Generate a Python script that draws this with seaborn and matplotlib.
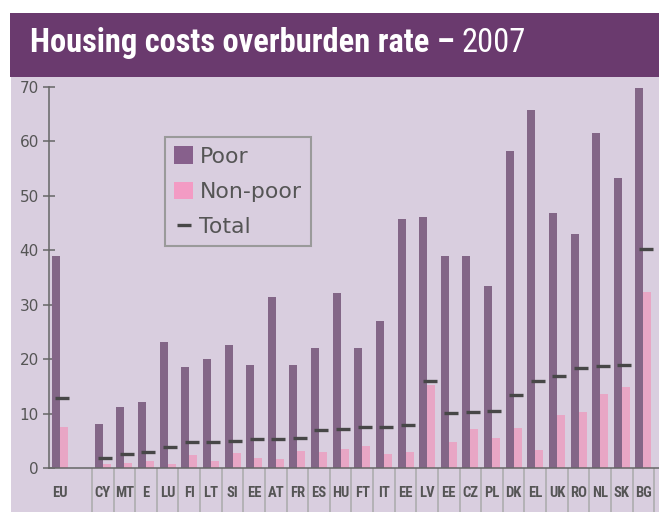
import numpy as np
import pandas as pd
import matplotlib
matplotlib.use("Agg")
import matplotlib.pyplot as plt
import seaborn as sns
from matplotlib.patches import Rectangle, Patch
from matplotlib.lines import Line2D
from matplotlib import font_manager as fm

# ---------------- data ----------------
countries = ["EU", "CY", "MT", "E", "LU", "FI", "LT", "SI", "EE", "AT", "FR", "ES", "HU",
             "FT", "IT", "EE", "LV", "EE", "CZ", "PL", "DK", "EL", "UK", "RO", "NL", "SK", "BG"]
poor = [39.0, 8.1, 11.3, 12.2, 23.1, 18.5, 20.1, 22.7, 19.0, 31.4, 19.0, 22.1, 32.2,
        22.0, 27.0, 45.7, 46.1, 38.9, 38.9, 33.5, 58.2, 65.8, 46.9, 42.9, 61.6, 53.3, 69.8]
non_poor = [7.6, 0.8, 1.0, 1.35, 0.8, 2.45, 1.35, 2.8, 1.9, 1.7, 3.2, 3.0, 3.6,
            4.1, 2.6, 3.0, 15.2, 4.8, 7.2, 5.6, 7.4, 3.4, 9.8, 10.4, 13.7, 15.0, 32.3]
total = [12.9, 1.8, 2.6, 3.0, 3.9, 4.8, 4.8, 5.0, 5.3, 5.4, 5.5, 7.0, 7.3,
         7.5, 7.6, 7.9, 16.1, 10.2, 10.4, 10.6, 13.4, 16.0, 17.0, 18.4, 18.7, 19.0, 40.2]
series_names = ["Poor", "Non-poor", "Total"]
y_ticks = [0, 10, 20, 30, 40, 50, 60, 70]
title_main = "Housing costs overburden rate \u2013"
title_year = "2007"

# ---------------- style ----------------
C_POOR = "#87608c"
C_NONPOOR = "#f39bc4"
C_TOTAL = "#474747"
C_BG = "#d9cedf"
C_BAR = "#6a3a6e"
C_TXT = "#555555"
C_AXIS = "#666666"
C_SEP = "#aaaaaa"

sns.set_style("white")
plt.rcParams["font.family"] = ["DejaVu Sans"]

names = {f.name for f in fm.fontManager.ttflist}
narrow = None
for c in ["Roboto Condensed", "Liberation Sans Narrow", "Open Sans Condensed", "Noto Sans Condensed"]:
    if c in names:
        narrow = c
        break
if narrow is None:
    narrow_kw = dict(family="DejaVu Sans", fontstretch="condensed")
else:
    narrow_kw = dict(family=narrow)

W, H = 659, 512
fig = plt.figure(figsize=(W / 100, H / 100), dpi=100)
fig.patch.set_facecolor("white")

# background panel and title band
fig.patches.append(Rectangle((11 / W, 0), 1 - 11 / W, 435 / H, transform=fig.transFigure,
                             facecolor=C_BG, edgecolor="none", zorder=-10))
fig.patches.append(Rectangle((10 / W, 435 / H), 1 - 10 / W, 64 / H, transform=fig.transFigure,
                             facecolor=C_BAR, edgecolor="none", zorder=-10))

ax = fig.add_axes([48.7 / W, 43.7 / H, 610.3 / W, 381.5 / H])
ax.set_facecolor("none")

# positions: EU first, one empty slot, then countries
pos = np.array([0] + list(range(2, len(countries) + 1)), dtype=float)

df = pd.DataFrame({
    "pos": np.concatenate([pos, pos]),
    "value": np.concatenate([poor, non_poor]),
    "series": [series_names[0]] * len(pos) + [series_names[1]] * len(pos),
})

sns.barplot(data=df, x="pos", y="value", hue="series", hue_order=series_names[:2],
            palette={series_names[0]: C_POOR, series_names[1]: C_NONPOOR},
            native_scale=True, width=0.74, dodge=True, errorbar=None,
            linewidth=0, legend=False, ax=ax)

tot_df = pd.DataFrame({"pos": pos + 0.11, "total": total})
sns.scatterplot(data=tot_df, x="pos", y="total", marker="_", s=100, color=C_TOTAL,
                linewidth=2.4, legend=False, ax=ax, zorder=5)

ax.set_xlim(-0.5, 27.72)
ax.set_ylim(0, 70)
ax.set_xlabel("")
ax.set_ylabel("")

# y axis
ax.set_yticks(y_ticks)
ax.set_yticklabels([str(v) for v in y_ticks])
ax.tick_params(axis="y", direction="inout", length=8, width=1.1, color=C_AXIS,
               labelcolor=C_TXT, labelsize=11, pad=3, left=True)

# x axis
ax.set_xticks(pos)
ax.set_xticklabels(countries)
for lab in ax.get_xticklabels():
    lab.set_fontweight("bold")
    lab.set_fontsize(10.5)
    lab.set_color(C_TXT)
    if narrow is None:
        lab.set_fontstretch("condensed")
    else:
        lab.set_family(narrow)
ax.tick_params(axis="x", which="major", length=0, pad=13, bottom=True)
seps = list(pos[1:] - 0.5) + [pos[-1] + 0.5]
ax.set_xticks(seps, minor=True)
ax.tick_params(axis="x", which="minor", direction="out", length=31.7, width=1.1,
               color=C_SEP, bottom=True)

for s in ["top", "right"]:
    ax.spines[s].set_visible(False)
for s in ["left", "bottom"]:
    ax.spines[s].set_color(C_AXIS)
    ax.spines[s].set_linewidth(1.1)
ax.spines["bottom"].set_zorder(6)

# legend
handles = [Patch(facecolor=C_POOR, edgecolor="none"),
           Patch(facecolor=C_NONPOOR, edgecolor="none"),
           Line2D([], [], color=C_TOTAL, marker="_", markersize=10, markeredgewidth=2.4,
                  linestyle="none")]
leg = ax.legend(handles, series_names, loc="upper left", bbox_to_anchor=(0.1906, 0.868),
                borderaxespad=0, fontsize=15.8, labelcolor=C_TXT, frameon=True,
                fancybox=False, facecolor=C_BG, edgecolor="#9a9a9a", framealpha=1,
                handlelength=0.85, handleheight=0.85, handletextpad=0.3,
                labelspacing=0.68, borderpad=0.42)
leg.get_frame().set_linewidth(1.5)

# title
r = fig.canvas.get_renderer()
yb = (512 - 52) / H
t1 = fig.text(30 / W, yb, title_main, color="white", fontweight="bold", fontsize=20,
              va="baseline", ha="left", **narrow_kw)
w = t1.get_window_extent(r).width
fs = 20 * 425 / w
t1.set_fontsize(fs)
bb = t1.get_window_extent(r)
fig.text((bb.x1 + 0.3 * fs) / W, yb, title_year, color="white", fontweight="normal",
         fontsize=fs, va="baseline", ha="left", **narrow_kw)

fig.savefig("out.png", dpi=100, facecolor=fig.get_facecolor())
